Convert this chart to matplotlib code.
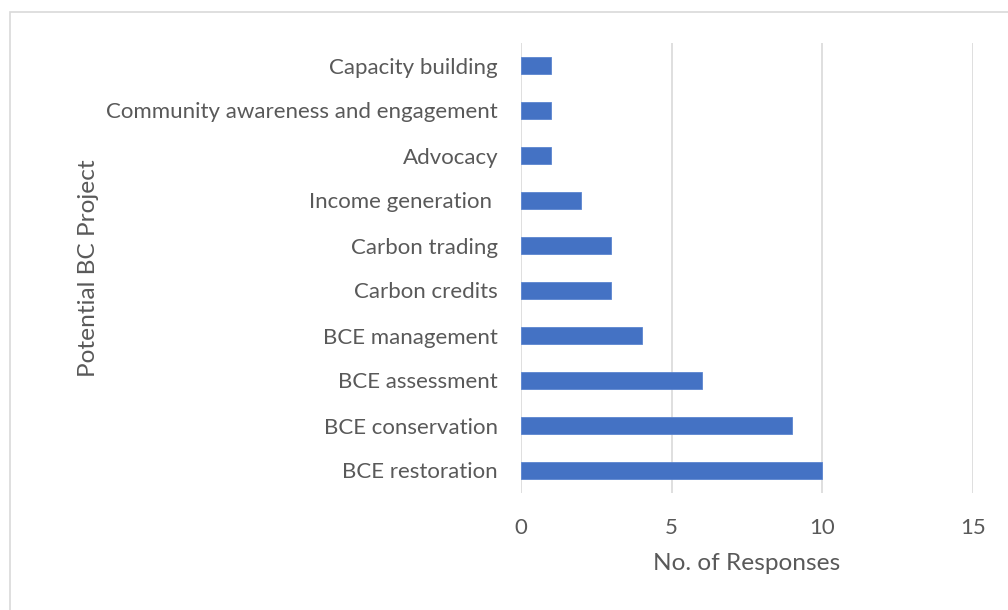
import matplotlib
matplotlib.use("Agg")
import matplotlib.pyplot as plt
from matplotlib.patches import Rectangle

categories = ["BCE restoration", "BCE conservation", "BCE assessment", "BCE management",
              "Carbon credits", "Carbon trading", "Income generation ", "Advocacy",
              "Community awareness and engagement", "Capacity building"]
values = [10, 9, 6, 4, 3, 3, 2, 1, 1, 1]
xticks = [0, 5, 10, 15]

plt.rcParams['font.family'] = ['Lato', 'DejaVu Sans']
W, H = 1008, 610
fig = plt.figure(figsize=(W/100, H/100), dpi=100)
fig.patches.append(Rectangle((9.5/W, -0.1), 1.2, 1 - 12.5/H + 0.1, transform=fig.transFigure,
                             fill=False, edgecolor='#d9d9d9', linewidth=1.2))

ax = fig.add_axes([521/W, 1 - 493/H, (973 - 521)/W, (493 - 43)/H])
ypos = list(range(len(categories)))
ax.barh(ypos, values, height=0.36, color='#4472C4', edgecolor='#5b85d0', linewidth=0.6, zorder=3)
ax.set_xlim(0, 15)
ax.set_ylim(-0.5, len(categories) - 0.5)
ax.set_xticks(xticks)
ax.set_xticklabels([str(t) for t in xticks])
ax.set_yticks(ypos)
ax.set_yticklabels(categories)
ax.grid(axis='x', color='#d9d9d9', linewidth=1.2, zorder=0)
for s in ax.spines.values():
    s.set_visible(False)
ax.tick_params(axis='both', length=0, colors='#595959', labelsize=16)
ax.tick_params(axis='x', pad=18)
ax.tick_params(axis='y', pad=16.5)
ax.set_xlabel("No. of Responses", fontsize=17.6, color='#595959', labelpad=11)
ax.set_ylabel("Potential BC Project", fontsize=17.6, color='#595959')
ax.yaxis.set_label_coords(-(521 - 99) / (973 - 521), 0.5)

fig.savefig("out.png", dpi=100, facecolor='white')
